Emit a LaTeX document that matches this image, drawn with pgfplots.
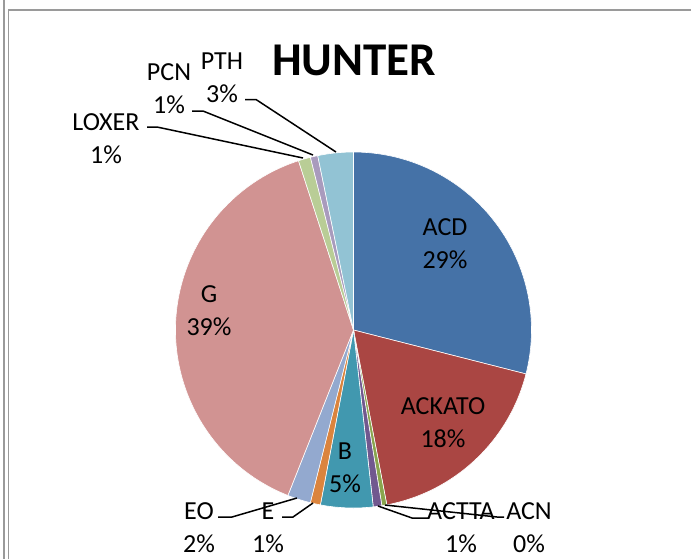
\documentclass[border=0pt]{standalone}
\usepackage{fontspec}
\setmainfont{Carlito}
\usepackage{pgfplots}
\usepackage{pgfplotstable}
\pgfplotsset{compat=1.18}

\definecolor{cACD}{HTML}{4572A7}
\definecolor{cACKATO}{HTML}{AA4643}
\definecolor{cACN}{HTML}{89A54E}
\definecolor{cACTTA}{HTML}{71588F}
\definecolor{cB}{HTML}{4198AF}
\definecolor{cE}{HTML}{DB843D}
\definecolor{cEO}{HTML}{93A9CF}
\definecolor{cG}{HTML}{D19392}
\definecolor{cLOXER}{HTML}{B9CD96}
\definecolor{cPCN}{HTML}{A99BBD}
\definecolor{cPTH}{HTML}{92C3D4}
\definecolor{frame}{HTML}{9A9A9A}

% share in percent, slice colour, label centre (pixel coords, y down)
\pgfplotstableread[col sep=comma]{
name,value,col,lx,ly
ACD,28.97,cACD,445,244
ACKATO,18.03,cACKATO,443,423
ACN,0.45,cACN,529,528
ACTTA,0.78,cACTTA,461,528
B,4.75,cB,345,468
E,0.92,cE,268,528
EO,2.11,cEO,199,528
G,38.99,cG,209,311
LOXER,1.11,cLOXER,106,139
PCN,0.67,cPCN,169,89
PTH,3.22,cPTH,222,78
}\piedata

\begin{document}
\begin{tikzpicture}
\path[use as bounding box] (0,0) rectangle (345.5pt,279.5pt);
\begin{axis}[
    at={(0,0)}, anchor=south west,
    scale only axis,
    width=345.5pt, height=279.5pt,
    xmin=0, xmax=691, ymin=0, ymax=559,
    y dir=reverse,
    enlargelimits=false,
    hide axis,
    clip=false,
]
\gdef\cumul{0}
\pgfplotsinvokeforeach{0,...,10}{
    \pgfplotstablegetelem{#1}{value}\of\piedata \let\sliceval\pgfplotsretval
    \pgfplotstablegetelem{#1}{col}\of\piedata \let\slicecol\pgfplotsretval
    \pgfplotstablegetelem{#1}{name}\of\piedata \let\slicename\pgfplotsretval
    \pgfplotstablegetelem{#1}{lx}\of\piedata \let\labx\pgfplotsretval
    \pgfplotstablegetelem{#1}{ly}\of\piedata \let\laby\pgfplotsretval
    \pgfmathsetmacro\angA{90-3.6*\cumul}
    \pgfmathsetmacro\angB{90-3.6*(\cumul+\sliceval)}
    \pgfmathtruncatemacro\pct{round(\sliceval)}
    \edef\doslice{%
        \noexpand\fill[\slicecol, draw=white, line width=0.3pt]
            (353.5,330) -- ++(\angA:89pt)
            arc[start angle=\angA, end angle=\angB, radius=89pt] -- cycle;
        \noexpand\node[align=center, font=\noexpand\fontsize{13}{16.5}\noexpand\selectfont]
            at (\labx,\laby) {\slicename\noexpand\\\pct\noexpand\%};
    }
    \doslice
    \pgfmathsetmacro\tmpc{\cumul+\sliceval}
    \global\let\cumul\tmpc
}

% leader lines
\draw[black, line width=0.75pt] (147,127) -- (157,127) -- (303,158);
\draw[black, line width=0.75pt] (192,111) -- (203,111) -- (313,155);
\draw[black, line width=0.75pt] (245,99.5) -- (256,99.5) -- (336,152);
\draw[black, line width=0.75pt] (218,517) -- (232,517) -- (297,498);
\draw[black, line width=0.75pt] (282,517) -- (293,517) -- (313,503);
\draw[black, line width=0.75pt] (378,506) -- (412,518) -- (428,518);
\draw[black, line width=0.75pt] (385,505) -- (497,517) -- (504,517);

\node[font=\bfseries\fontsize{23.5}{28}\selectfont] at (354,60) {HUNTER};

% frame
\draw[frame, line width=0.75pt] (4,0) -- (4,559);
\draw[frame, line width=0.75pt] (8.3,559) -- (8.3,10) -- (691,10);
\end{axis}
\end{tikzpicture}
\end{document}
